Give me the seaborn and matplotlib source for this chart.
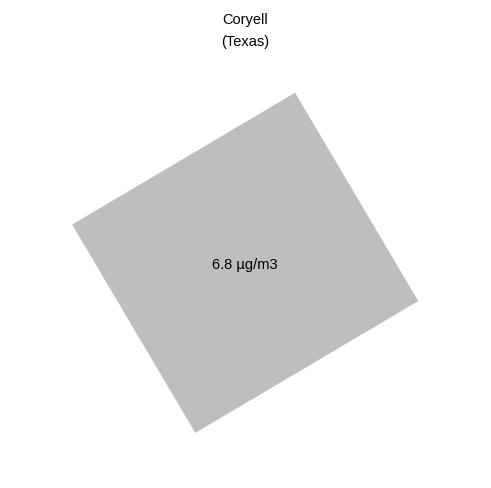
import matplotlib
matplotlib.use("Agg")
import matplotlib.pyplot as plt
import matplotlib.transforms as mtransforms
from matplotlib.patches import Rectangle
import seaborn as sns

county = "Coryell"
state = "Texas"
values = [6.8]
unit = "µg/m3"

sns.set_theme(style="white")
plt.rcParams['font.family'] = ['Liberation Sans', 'DejaVu Sans']

fig = plt.figure(figsize=(4.91, 4.88), dpi=100)
ax = fig.add_axes([0, 0, 1, 1])
ax.set_xlim(0, 491)
ax.set_ylim(488, 0)
ax.axis("off")

# rotated tile, in pixel-like coords
cx, cy = 245.2, 262.8
w, h = 259, 242
rot = mtransforms.Affine2D().rotate_deg_around(cx, cy, -30.6) + ax.transData
tile = Rectangle((cx - w / 2, cy - h / 2), w, h, facecolor="#bebebe",
                 edgecolor="none", transform=rot)
ax.add_patch(tile)

ax.text(cx, cy + 2, f"{values[0]} {unit}", ha="center", va="center",
        fontsize=10.5, color="black")

ax.text(245.5, 20, county, ha="center", va="center", fontsize=10.5, color="black")
ax.text(245.5, 42, f"({state})", ha="center", va="center", fontsize=10.5, color="black")

fig.savefig("out.png", dpi=100, facecolor="white")
